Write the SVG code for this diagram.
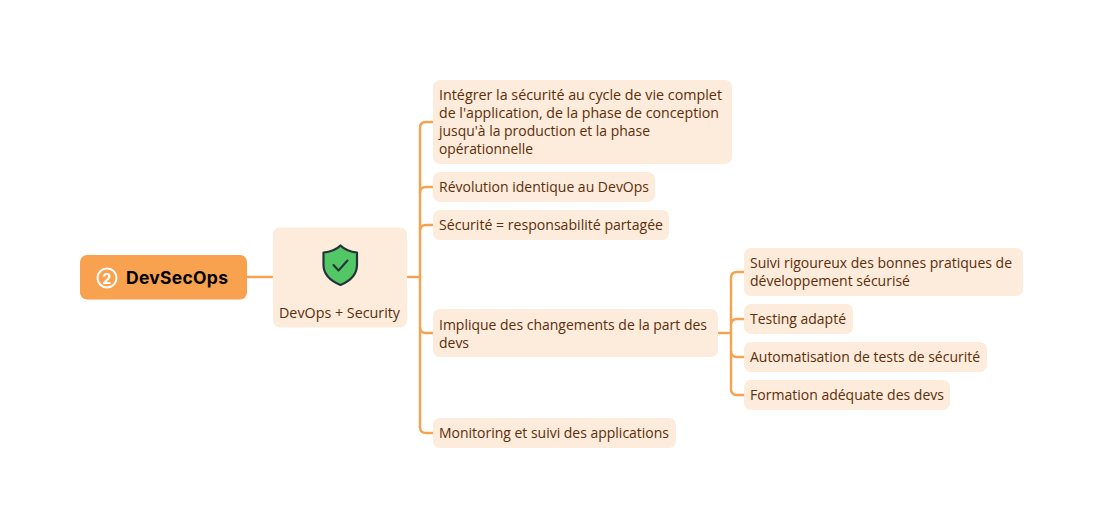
<svg xmlns="http://www.w3.org/2000/svg" width="1103" height="528" viewBox="0 0 1103 528">
<style>
.b{fill:#fdebdc}
.t{font-family:"Open Sans","Noto Sans",sans-serif;font-size:13.6px;fill:#5c2e0a}
.c{fill:none;stroke:#f8a24f;stroke-width:2.4}
.r{font-family:"Inter","Noto Sans",sans-serif;font-size:17.5px;font-weight:700;fill:#000}
</style>
<rect width="1103" height="528" fill="#fff"/>
<g id="connectors">
<path class="c" d="M247 277H273"/>
<path class="c" d="M407 277H420"/>
<path class="c" d="M433 122H426Q420 122 420 128V427Q420 433 426 433H433"/>
<path class="c" d="M433 187H426Q420 187 420 193"/>
<path class="c" d="M433 225H426Q420 225 420 231"/>
<path class="c" d="M433 333H426Q420 333 420 327"/>
<path class="c" d="M718 333H731"/>
<path class="c" d="M744 272H737Q731 272 731 278V389Q731 395 737 395H744"/>
<path class="c" d="M744 319H737Q731 319 731 325"/>
<path class="c" d="M744 357H737Q731 357 731 351"/>
</g>
<g id="root">
<rect x="80" y="255" width="167" height="44.500" rx="7" fill="#f8a24f"/>
<circle cx="107" cy="278" r="9.500" fill="none" stroke="#fff" stroke-width="2"/>
<text x="107" y="283.500" text-anchor="middle" font-family="Inter,sans-serif" font-size="14" font-weight="700" fill="#fff">2</text>
<text class="r" x="126" y="284" textLength="102" lengthAdjust="spacing">DevSecOps</text>
</g>
<g id="devops">
<rect class="b" x="273" y="227.500" width="134" height="100" rx="7"/>
<path d="M340.500 245.500C345 250 351 252 357 252.500V265C357 274 350 281 340.500 285C331 281 323.500 274 323.500 265V252.500C330 252 336 250 340.500 245.500Z" fill="#52c765" stroke="#26323a" stroke-width="2.200" stroke-linejoin="round"/>
<path d="M333.500 265L338.500 270.500L347.500 260.500" fill="none" stroke="#26323a" stroke-width="2" stroke-linecap="round" stroke-linejoin="round"/>
<text class="t" x="279" y="318" textLength="121" lengthAdjust="spacingAndGlyphs">DevOps + Security</text>
</g>
<g id="n1">
<rect class="b" x="433" y="80" width="299" height="84" rx="7"/>
<text class="t" x="439" y="100" textLength="283" lengthAdjust="spacingAndGlyphs">Intégrer la sécurité au cycle de vie complet</text>
<text class="t" x="439" y="118" textLength="280" lengthAdjust="spacingAndGlyphs">de l'application, de la phase de conception</text>
<text class="t" x="439" y="136" textLength="211" lengthAdjust="spacingAndGlyphs">jusqu'à la production et la phase</text>
<text class="t" x="439" y="154" textLength="94" lengthAdjust="spacingAndGlyphs">opérationnelle</text>
</g>
<g id="n2">
<rect class="b" x="433" y="172" width="222" height="30" rx="7"/>
<text class="t" x="439" y="192" textLength="210" lengthAdjust="spacingAndGlyphs">Révolution identique au DevOps</text>
</g>
<g id="n3">
<rect class="b" x="433" y="210" width="236" height="30" rx="7"/>
<text class="t" x="439" y="230" textLength="224" lengthAdjust="spacingAndGlyphs">Sécurité = responsabilité partagée</text>
</g>
<g id="n4">
<rect class="b" x="433" y="309" width="285" height="48" rx="7"/>
<text class="t" x="439" y="330" textLength="268" lengthAdjust="spacingAndGlyphs">Implique des changements de la part des</text>
<text class="t" x="439" y="348" textLength="30" lengthAdjust="spacingAndGlyphs">devs</text>
</g>
<g id="n5">
<rect class="b" x="433" y="418" width="243" height="30" rx="7"/>
<text class="t" x="439" y="438" textLength="230" lengthAdjust="spacingAndGlyphs">Monitoring et suivi des applications</text>
</g>
<g id="s1">
<rect class="b" x="744" y="248" width="279" height="48" rx="7"/>
<text class="t" x="750" y="268" textLength="262" lengthAdjust="spacingAndGlyphs">Suivi rigoureux des bonnes pratiques de</text>
<text class="t" x="750" y="286" textLength="160" lengthAdjust="spacingAndGlyphs">développement sécurisé</text>
</g>
<g id="s2">
<rect class="b" x="744" y="304" width="109" height="30" rx="7"/>
<text class="t" x="750" y="324" textLength="96" lengthAdjust="spacingAndGlyphs">Testing adapté</text>
</g>
<g id="s3">
<rect class="b" x="744" y="342" width="243" height="30" rx="7"/>
<text class="t" x="750" y="362" textLength="230" lengthAdjust="spacingAndGlyphs">Automatisation de tests de sécurité</text>
</g>
<g id="s4">
<rect class="b" x="744" y="380" width="206" height="30" rx="7"/>
<text class="t" x="750" y="400" textLength="194" lengthAdjust="spacingAndGlyphs">Formation adéquate des devs</text>
</g>
</svg>
